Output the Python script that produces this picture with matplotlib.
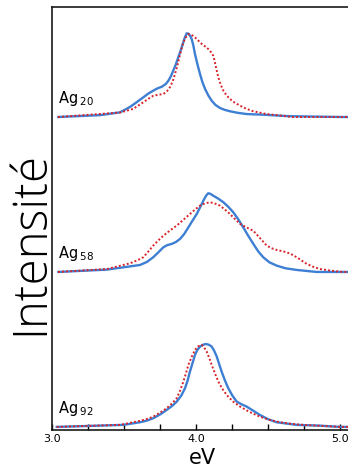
import numpy as np
import matplotlib
matplotlib.use('Agg')
import matplotlib.pyplot as plt
from matplotlib.ticker import MultipleLocator

# cluster labels and vertical offsets of each spectrum
clusters = ['Ag$\\,_{20}$', 'Ag$\\,_{58}$', 'Ag$\\,_{92}$']
offsets = [2.0, 1.0, 0.0]

# Ag20 - blue (solid) and red (dotted)
ag20_blue_ev = [3.044, 3.333, 3.472, 3.542, 3.590, 3.634, 3.670, 3.703, 3.735, 3.762, 3.790, 3.808,
                3.825, 3.842, 3.860, 3.877, 3.893, 3.908, 3.922, 3.935, 3.948, 3.960, 3.970, 3.982,
                3.993, 4.010, 4.028, 4.045, 4.063, 4.085, 4.109, 4.135, 4.167, 4.200, 4.236, 4.290,
                4.352, 4.465, 4.653, 5.021, 5.08]
ag20_blue_int = [0.0, 0.012, 0.030, 0.065, 0.097, 0.127, 0.152, 0.170, 0.186, 0.195, 0.213, 0.234,
                 0.262, 0.299, 0.340, 0.385, 0.428, 0.471, 0.512, 0.540, 0.538, 0.523, 0.503, 0.460,
                 0.406, 0.340, 0.277, 0.224, 0.181, 0.140, 0.105, 0.078, 0.058, 0.046, 0.037, 0.027,
                 0.019, 0.015, 0.005, 0.0, 0.0]
ag20_red_ev = [3.042, 3.472, 3.563, 3.634, 3.670, 3.703, 3.740, 3.773, 3.800, 3.819, 3.838, 3.854,
               3.870, 3.884, 3.898, 3.912, 3.930, 3.947, 3.970, 3.993, 4.015, 4.040, 4.063, 4.085,
               4.105, 4.120, 4.130, 4.139, 4.155, 4.172, 4.190, 4.212, 4.236, 4.270, 4.306, 4.350,
               4.398, 4.491, 4.674, 5.021, 5.08]
ag20_red_int = [0.0, 0.029, 0.052, 0.095, 0.118, 0.137, 0.144, 0.148, 0.168, 0.192, 0.230, 0.277,
                0.330, 0.385, 0.435, 0.482, 0.515, 0.535, 0.530, 0.514, 0.494, 0.471, 0.456, 0.439,
                0.418, 0.395, 0.360, 0.320, 0.256, 0.208, 0.170, 0.140, 0.116, 0.092, 0.073, 0.053,
                0.037, 0.019, 0.0, 0.0, 0.0]

# Ag58
ag58_blue_ev = [3.044, 3.380, 3.611, 3.660, 3.703, 3.740, 3.773, 3.800, 3.831, 3.860, 3.889, 3.918,
                3.947, 3.975, 4.005, 4.030, 4.051, 4.070, 4.085, 4.100, 4.120, 4.155, 4.190, 4.225,
                4.259, 4.295, 4.328, 4.363, 4.398, 4.432, 4.467, 4.510, 4.560, 4.620, 4.699, 4.838,
                5.021, 5.08]
ag58_blue_int = [0.0, 0.015, 0.045, 0.065, 0.095, 0.128, 0.159, 0.173, 0.181, 0.193, 0.213, 0.245,
                 0.288, 0.330, 0.374, 0.420, 0.460, 0.492, 0.508, 0.504, 0.492, 0.473, 0.450, 0.420,
                 0.385, 0.338, 0.288, 0.233, 0.181, 0.133, 0.095, 0.062, 0.041, 0.024, 0.013, 0.0,
                 0.0, 0.0]
ag58_red_ev = [3.042, 3.382, 3.542, 3.590, 3.634, 3.670, 3.703, 3.740, 3.773, 3.820, 3.866, 3.910,
               3.958, 3.995, 4.028, 4.060, 4.097, 4.130, 4.167, 4.200, 4.236, 4.270, 4.306, 4.350,
               4.398, 4.445, 4.491, 4.525, 4.560, 4.595, 4.630, 4.665, 4.699, 4.735, 4.769, 4.815,
               4.861, 4.940, 5.021, 5.08]
ag58_red_int = [0.0, 0.019, 0.056, 0.074, 0.095, 0.133, 0.170, 0.205, 0.234, 0.268, 0.299, 0.335,
                0.374, 0.404, 0.428, 0.442, 0.450, 0.442, 0.428, 0.403, 0.374, 0.342, 0.310, 0.288,
                0.266, 0.218, 0.170, 0.153, 0.142, 0.135, 0.127, 0.113, 0.095, 0.073, 0.052, 0.033,
                0.019, 0.008, 0.0, 0.0]

# Ag92
ag92_blue_ev = [3.033, 3.495, 3.611, 3.660, 3.703, 3.750, 3.797, 3.835, 3.866, 3.898, 3.924, 3.942,
                3.958, 3.976, 3.993, 4.010, 4.028, 4.048, 4.069, 4.090, 4.109, 4.127, 4.144, 4.160,
                4.178, 4.200, 4.224, 4.252, 4.283, 4.318, 4.352, 4.400, 4.444, 4.500, 4.560, 4.699,
                4.861, 5.0, 5.08]
ag92_blue_int = [0.0, 0.013, 0.030, 0.041, 0.056, 0.080, 0.110, 0.136, 0.163, 0.203, 0.250, 0.300,
                 0.357, 0.412, 0.465, 0.498, 0.518, 0.530, 0.535, 0.530, 0.518, 0.490, 0.454, 0.408,
                 0.357, 0.302, 0.250, 0.203, 0.163, 0.145, 0.131, 0.103, 0.077, 0.050, 0.030, 0.013,
                 0.008, 0.0, 0.0]
ag92_red_ev = [3.033, 3.472, 3.611, 3.660, 3.703, 3.750, 3.797, 3.835, 3.866, 3.890, 3.912, 3.930,
               3.947, 3.970, 3.993, 4.015, 4.040, 4.057, 4.074, 4.092, 4.109, 4.132, 4.155, 4.183,
               4.213, 4.255, 4.306, 4.370, 4.444, 4.510, 4.583, 4.660, 4.745, 5.0, 5.08]
ag92_red_int = [0.0, 0.013, 0.039, 0.051, 0.066, 0.092, 0.121, 0.153, 0.185, 0.235, 0.292, 0.345,
                0.400, 0.452, 0.497, 0.520, 0.529, 0.512, 0.486, 0.445, 0.400, 0.345, 0.292, 0.246,
                0.206, 0.165, 0.131, 0.097, 0.066, 0.045, 0.030, 0.020, 0.013, 0.0, 0.0]

blue_ev = [ag20_blue_ev, ag58_blue_ev, ag92_blue_ev]
blue_int = [ag20_blue_int, ag58_blue_int, ag92_blue_int]
red_ev = [ag20_red_ev, ag58_red_ev, ag92_red_ev]
red_int = [ag20_red_int, ag58_red_int, ag92_red_int]

'Figure and axes'
fig = plt.figure(figsize=(3.48, 4.75), dpi=100)
ax = fig.add_axes([52/348, 45/475, 300/348, 423/475])

for i in range(3):
    off = offsets[i]
    ax.plot(red_ev[i], np.array(red_int[i]) + off, color='#d8232a',
            linestyle=(0, (1, 1.1)), lw=1.4, zorder=3)
    ax.plot(blue_ev[i], np.array(blue_int[i]) + off, color='#3d7fd3',
            lw=1.7, zorder=2, solid_joinstyle='round')
    ax.text(3.04, off + 0.09, clusters[i], fontsize=10.5, ha='left', va='baseline')

'Axis limits and ticks'
ax.set_xlim(3.0, 3.0 + 300/144)
ax.set_ylim(-0.02, 2.71)
ax.set_xticks([3.0, 4.0, 5.0])
ax.set_xticklabels(['3.0', '4.0', '5.0'])
ax.xaxis.set_minor_locator(MultipleLocator(0.25))
ax.tick_params(axis='x', which='both', direction='in', length=4, width=1,
               labelsize=8, pad=3, top=False)
ax.set_yticks([])
for s in ax.spines.values():
    s.set_linewidth(1.2)
    s.set_color('#1a1a1a')

'Labels'
ax.set_xlabel('eV', fontsize=15, labelpad=3)
fig.text(31/348, 1 - 243/475, 'Intensité', family='Open Sans', fontweight='light',
         fontsize=34, rotation=90, ha='center', va='center')

fig.savefig('out.png', dpi=100)
